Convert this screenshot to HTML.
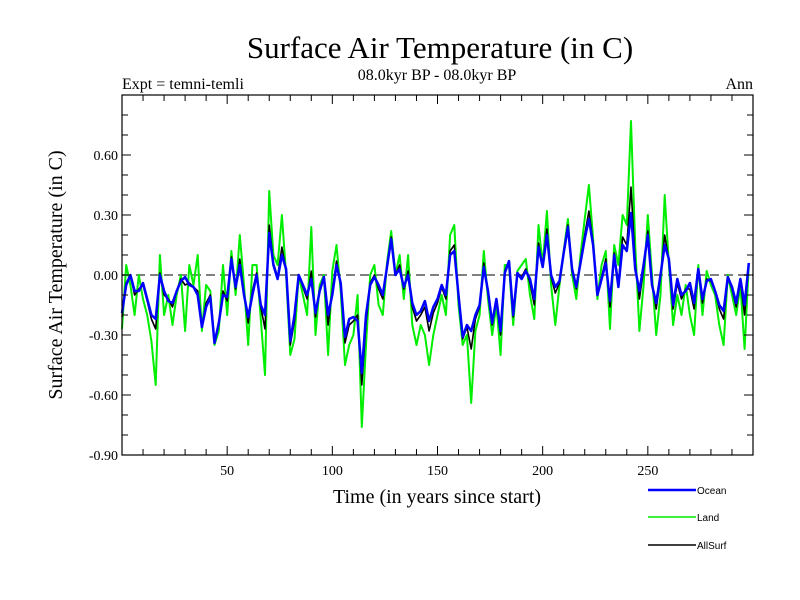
<!DOCTYPE html>
<html><head><meta charset="utf-8"><style>
body{margin:0;background:#fff;}
svg{display:block;font-family:"Liberation Serif",serif;}
</style></head><body>
<svg id="chart" width="800" height="600">
<text x="440" y="58" font-size="31" text-anchor="middle">Surface Air Temperature (in C)</text>
<text x="437" y="80" font-size="16" text-anchor="middle">08.0kyr BP - 08.0kyr BP</text>
<text x="122" y="89" font-size="16">Expt = temni-temli</text>
<text x="753" y="89" font-size="16" text-anchor="end">Ann</text>
<text transform="translate(62,275) rotate(-90)" font-size="20" text-anchor="middle">Surface Air Temperature (in C)</text>
<text x="437" y="503" font-size="20" text-anchor="middle">Time (in years since start)</text>
<g id="plot"></g>
<g id="legend"></g>
</svg>
<script>
const years=[];for(let y=0;y<300;y+=2)years.push(y);
const ocean=[-0.19,-0.05,0.0,-0.08,-0.08,-0.04,-0.12,-0.2,-0.22,0.0,-0.08,-0.13,-0.14,-0.08,-0.03,-0.01,-0.05,-0.06,-0.1,-0.26,-0.16,-0.11,-0.34,-0.24,-0.1,-0.11,0.08,-0.06,0.05,-0.1,-0.21,-0.1,0.0,-0.15,-0.2,0.21,0.05,-0.02,0.1,0.03,-0.33,-0.2,0.0,-0.05,-0.1,-0.02,-0.19,-0.08,-0.01,-0.2,-0.1,0.05,-0.04,-0.31,-0.22,-0.21,-0.23,-0.49,-0.2,-0.05,-0.01,-0.05,-0.1,0.04,0.18,0.0,0.03,-0.06,0.0,-0.14,-0.2,-0.18,-0.13,-0.23,-0.16,-0.12,-0.05,-0.1,0.1,0.12,-0.1,-0.31,-0.25,-0.28,-0.2,-0.15,0.04,-0.08,-0.24,-0.12,-0.28,0.01,0.07,-0.2,0.01,-0.02,0.02,-0.02,-0.12,0.14,0.04,0.2,0.0,-0.06,-0.03,0.11,0.24,0.03,-0.06,0.06,0.18,0.28,0.15,-0.1,-0.02,0.06,-0.13,0.1,-0.06,0.15,0.12,0.31,0.03,-0.08,0.05,0.2,-0.05,-0.14,0.0,0.15,0.08,-0.15,-0.02,-0.1,-0.08,-0.04,-0.14,0.03,-0.12,-0.03,-0.02,-0.08,-0.15,-0.18,-0.01,-0.06,-0.14,-0.02,-0.15,0.06];
const land=[-0.27,0.05,-0.05,-0.2,0.0,-0.12,-0.2,-0.33,-0.55,0.1,-0.2,-0.1,-0.25,-0.1,0.0,-0.28,0.05,-0.05,0.1,-0.28,-0.05,-0.08,-0.35,-0.28,0.05,-0.2,0.12,-0.1,0.2,-0.05,-0.35,0.05,0.05,-0.22,-0.5,0.42,0.1,0.05,0.3,0.0,-0.4,-0.32,0.0,-0.1,-0.2,0.24,-0.3,-0.05,0.0,-0.4,0.02,0.15,-0.08,-0.45,-0.35,-0.3,-0.1,-0.76,-0.35,0.0,0.05,-0.15,-0.2,0.06,0.22,0.0,0.1,-0.12,0.1,-0.25,-0.35,-0.25,-0.3,-0.45,-0.3,-0.2,-0.1,-0.2,0.2,0.25,-0.15,-0.35,-0.3,-0.64,-0.28,-0.2,0.12,-0.12,-0.3,-0.15,-0.4,0.05,0.05,-0.25,0.02,0.05,0.08,-0.1,-0.22,0.25,0.05,0.32,-0.05,-0.25,-0.05,0.12,0.28,0.0,-0.12,0.1,0.28,0.45,0.18,-0.12,0.05,0.12,-0.27,0.15,0.05,0.3,0.25,0.77,0.15,-0.28,-0.05,0.3,0.0,-0.3,-0.1,0.4,0.05,-0.25,-0.1,-0.2,-0.05,-0.2,-0.3,0.05,-0.2,0.02,-0.05,-0.1,-0.25,-0.35,0.0,-0.1,-0.2,-0.05,-0.37,0.05];
const allSurf=[-0.21,-0.04,0.0,-0.1,-0.07,-0.05,-0.13,-0.22,-0.27,0.01,-0.1,-0.12,-0.16,-0.08,-0.02,-0.05,-0.04,-0.06,-0.08,-0.26,-0.14,-0.1,-0.34,-0.25,-0.08,-0.13,0.09,-0.07,0.08,-0.09,-0.24,-0.08,0.01,-0.16,-0.27,0.25,0.06,-0.01,0.14,0.02,-0.35,-0.23,0.0,-0.06,-0.12,0.02,-0.21,-0.07,-0.01,-0.25,-0.08,0.07,-0.05,-0.34,-0.25,-0.23,-0.2,-0.55,-0.24,-0.04,0.0,-0.07,-0.12,0.04,0.19,0.0,0.05,-0.07,0.02,-0.16,-0.23,-0.2,-0.16,-0.28,-0.19,-0.14,-0.06,-0.12,0.12,0.15,-0.11,-0.32,-0.26,-0.37,-0.22,-0.16,0.06,-0.09,-0.25,-0.13,-0.3,0.02,0.07,-0.21,0.01,-0.01,0.03,-0.04,-0.15,0.16,0.04,0.23,-0.01,-0.09,-0.04,0.12,0.25,0.02,-0.07,0.07,0.2,0.32,0.16,-0.1,-0.01,0.08,-0.16,0.11,-0.04,0.19,0.15,0.44,0.06,-0.12,0.03,0.22,-0.04,-0.17,-0.01,0.2,0.07,-0.17,-0.04,-0.12,-0.07,-0.07,-0.17,0.03,-0.14,-0.02,-0.03,-0.08,-0.17,-0.22,-0.01,-0.07,-0.16,-0.03,-0.2,0.06];
const yTicks=[0.6,0.3,0.0,-0.3,-0.6,-0.9];
const yTickLabels=["0.60","0.30","0.00","-0.30","-0.60","-0.90"];
const xTicks=[50,100,150,200,250];
const X0=122,X1=753,Y0=95,Y1=455;
const xs=v=>X0+(v-0)/(300-0)*(X1-X0);
const ys=v=>Y1-(v+0.9)/(1.8)*(Y1-Y0);
const NS="http://www.w3.org/2000/svg";
const plot=document.getElementById('plot');
function mk(tag,attrs,parent){const e=document.createElementNS(NS,tag);for(const k in attrs)e.setAttribute(k,attrs[k]);(parent||plot).appendChild(e);return e;}
// zero line
let z=mk('line',{x1:X0,x2:X1,y1:ys(0),y2:ys(0),stroke:'#808080','stroke-width':2,'stroke-dasharray':'9,5'});


function series(vals,color,w,name){
  const d=vals.map((v,i)=>(i?'L':'M')+xs(years[i]).toFixed(1)+','+ys(v).toFixed(1)).join('');
  const p=mk('path',{d:d,fill:'none',stroke:color,'stroke-width':w,'stroke-linejoin':'round'});
  
  
}
series(land,'#00ee00',2,'land-line');
series(allSurf,'#000000',1.6,'allsurf-line');
series(ocean,'#0000ff',2.5,'ocean-line');
// frame
const fr=mk('rect',{x:X0,y:Y0,width:X1-X0,height:Y1-Y0,fill:'none',stroke:'#000','stroke-width':1.2});


// y minor/major ticks
for(let k=0;k<=18;k++){const v=-0.9+k*0.1;const y=ys(v);const L=(k%3===0)?9:6;
  mk('line',{x1:X0,x2:X0+L,y1:y,y2:y,stroke:'#000'});mk('line',{x1:X1,x2:X1-L,y1:y,y2:y,stroke:'#000'});}
yTicks.forEach((v,i)=>{const t=mk('text',{x:X0-4,y:ys(v)+5,'font-size':14,'text-anchor':'end'});t.textContent=yTickLabels[i];
  
  });
for(let yr=10;yr<300;yr+=10){const x=xs(yr);const L=(yr%50===0)?9:6;
  mk('line',{x1:x,x2:x,y1:Y1,y2:Y1-L,stroke:'#000'});mk('line',{x1:x,x2:x,y1:Y0,y2:Y0+L,stroke:'#000'});}
xTicks.forEach(v=>{const t=mk('text',{x:xs(v),y:Y1+20,'font-size':14,'text-anchor':'middle'});t.textContent=String(v);
  
  });
// legend
const lg=document.getElementById('legend');
[['Ocean','#0000ff',2.5,490],['Land','#00ee00',1.5,517],['AllSurf','#000',1.5,545]].forEach(([n,c,w,y])=>{
  const l=mk('line',{x1:648,x2:696,y1:y,y2:y,stroke:c,'stroke-width':w},lg);
  
  
  const t=mk('text',{x:697,y:y+4,'font-size':10,'font-family':'Liberation Sans, sans-serif'},lg);t.textContent=n;
  
  
});
</script>
</body></html>
